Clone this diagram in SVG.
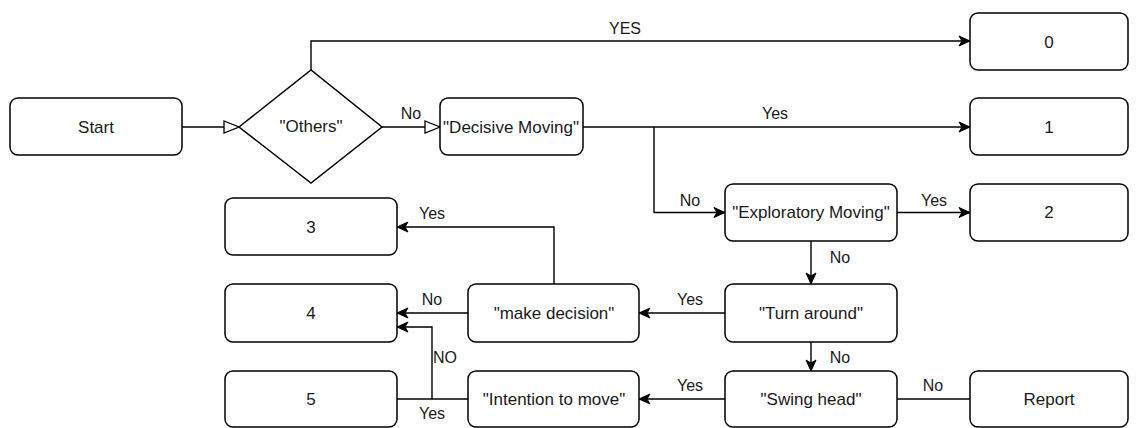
<svg xmlns="http://www.w3.org/2000/svg" width="1138" height="428" viewBox="0 0 1138 428">
<style>
.box{fill:#fff;stroke:#000;stroke-width:1.5}
.t{font-family:"Liberation Sans",Arial,sans-serif;font-size:17px;fill:#1a1a1a;text-anchor:middle;dominant-baseline:central}
.l{font-family:"Liberation Sans",Arial,sans-serif;font-size:16px;fill:#1a1a1a;text-anchor:middle;dominant-baseline:central}
.c{fill:none;stroke:#000;stroke-width:1.4}
</style>
<defs>
<marker id="arr" markerUnits="userSpaceOnUse" markerWidth="14" markerHeight="12" refX="12" refY="6" orient="auto" viewBox="0 0 14 12">
<path d="M1,1 L12,6 L1,11 L4,6 Z" fill="#000" stroke="#000" stroke-width="1"/>
</marker>
<marker id="tri" markerUnits="userSpaceOnUse" markerWidth="18" markerHeight="14" refX="16" refY="7" orient="auto" viewBox="0 0 18 14">
<path d="M1,1 L16,7 L1,13 Z" fill="#fff" stroke="#000" stroke-width="1.3"/>
</marker>
</defs>
<g id="connectors">
<path class="c" d="M182,127 H239" marker-end="url(#tri)"/>
<path class="c" d="M382,127 H440" marker-end="url(#tri)"/>
<path class="c" d="M311,70 V41 H970" marker-end="url(#arr)"/>
<path class="c" d="M583,127 H970" marker-end="url(#arr)"/>
<path class="c" d="M654,127 V212.5 H725" marker-end="url(#arr)"/>
<path class="c" d="M897,212.5 H970" marker-end="url(#arr)"/>
<path class="c" d="M811,241 V284" marker-end="url(#arr)"/>
<path class="c" d="M725,313 H639" marker-end="url(#arr)"/>
<path class="c" d="M554,284 V227 H397" marker-end="url(#arr)"/>
<path class="c" d="M468,313 H397" marker-end="url(#arr)"/>
<path class="c" d="M811,342 V371" marker-end="url(#arr)"/>
<path class="c" d="M725,399 H639" marker-end="url(#arr)"/>
<path class="c" d="M970,399 H897"/>
<path class="c" d="M468,399 H397"/>
<path class="c" d="M432,399 V327 H397" marker-end="url(#arr)"/>
<text class="l" x="625" y="28">YES</text>
<text class="l" x="411" y="113">No</text>
<text class="l" x="775" y="113">Yes</text>
<text class="l" x="690" y="200">No</text>
<text class="l" x="934" y="200">Yes</text>
<text class="l" x="840" y="257">No</text>
<text class="l" x="690" y="299">Yes</text>
<text class="l" x="432" y="213">Yes</text>
<text class="l" x="432" y="299">No</text>
<text class="l" x="445" y="357">NO</text>
<text class="l" x="840" y="357">No</text>
<text class="l" x="690" y="385">Yes</text>
<text class="l" x="933" y="385">No</text>
<text class="l" x="432" y="413">Yes</text>
</g>
<g id="start"><rect class="box" x="10" y="98" width="172" height="57" rx="8"/><text class="t" x="96" y="127">Start</text></g>
<g id="others"><path class="box" d="M239,127 L311,70 L382,127 L311,183 Z"/><text class="t" x="311" y="126">"Others"</text></g>
<g id="decisive"><rect class="box" x="440" y="98" width="143" height="57" rx="8"/><text class="t" x="511" y="127">"Decisive Moving"</text></g>
<g id="n0"><rect class="box" x="970" y="13" width="158" height="57" rx="8"/><text class="t" x="1049" y="42">0</text></g>
<g id="n1"><rect class="box" x="970" y="98" width="158" height="57" rx="8"/><text class="t" x="1049" y="127">1</text></g>
<g id="exploratory"><rect class="box" x="725" y="184" width="172" height="57" rx="8"/><text class="t" x="811" y="212">"Exploratory Moving"</text></g>
<g id="n2"><rect class="box" x="970" y="184" width="158" height="57" rx="8"/><text class="t" x="1049" y="212">2</text></g>
<g id="n3"><rect class="box" x="225" y="198" width="172" height="57" rx="8"/><text class="t" x="311" y="227">3</text></g>
<g id="turn"><rect class="box" x="725" y="284" width="172" height="58" rx="8"/><text class="t" x="811" y="313">"Turn around"</text></g>
<g id="make"><rect class="box" x="468" y="284" width="171" height="58" rx="8"/><text class="t" x="554" y="313">"make decision"</text></g>
<g id="n4"><rect class="box" x="225" y="284" width="172" height="58" rx="8"/><text class="t" x="311" y="313">4</text></g>
<g id="swing"><rect class="box" x="725" y="371" width="172" height="56" rx="8"/><text class="t" x="811" y="399">"Swing head"</text></g>
<g id="intention"><rect class="box" x="468" y="371" width="171" height="56" rx="8"/><text class="t" x="554" y="399">"Intention to move"</text></g>
<g id="n5"><rect class="box" x="225" y="371" width="172" height="56" rx="8"/><text class="t" x="311" y="399">5</text></g>
<g id="report"><rect class="box" x="970" y="371" width="158" height="56" rx="8"/><text class="t" x="1049" y="399">Report</text></g>
</svg>
